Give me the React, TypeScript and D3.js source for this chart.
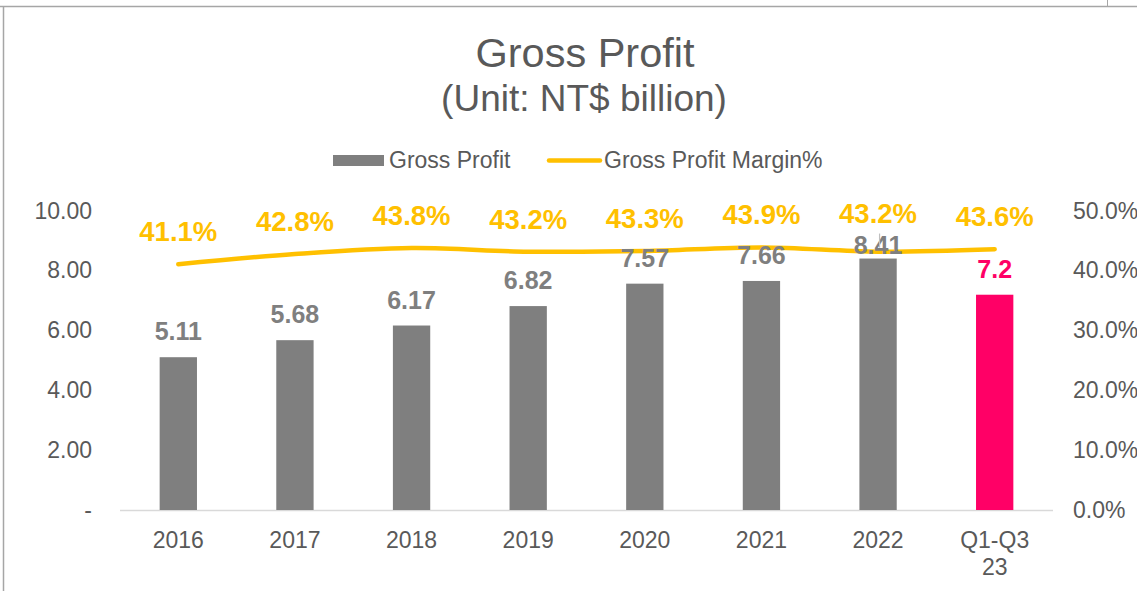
import React, { useEffect, useRef } from 'react';
import * as d3 from 'd3';

const categories = ['2016', '2017', '2018', '2019', '2020', '2021', '2022', 'Q1-Q3\n23'];
const grossProfit = [5.11, 5.68, 6.17, 6.82, 7.57, 7.66, 8.41, 7.2];
const grossProfitLabels = ['5.11', '5.68', '6.17', '6.82', '7.57', '7.66', '8.41', '7.2'];
const marginPct = [41.1, 42.8, 43.8, 43.2, 43.3, 43.9, 43.2, 43.6];
const leftTicks = [0, 2, 4, 6, 8, 10];
const rightTicks = [0, 10, 20, 30, 40, 50];

const W = 1137;
const H = 591;

const App = () => {
  const ref = useRef<SVGSVGElement | null>(null);

  useEffect(() => {
    const svg = d3.select(ref.current);
    svg.selectAll('*').remove();
    svg.style('font-family', '"Liberation Sans", Arial, sans-serif');

    const plot = { left: 120, right: 1053, top: 211, bottom: 510 };

    const x = d3.scaleBand().domain(categories).range([plot.left, plot.right]).paddingInner(0.68).paddingOuter(0.34);
    const y = d3.scaleLinear().domain([0, 10]).range([plot.bottom, plot.top]);
    const y2 = d3.scaleLinear().domain([0, 50]).range([plot.bottom, plot.top]);
    const cx = (i: number) => (x(categories[i]) as number) + x.bandwidth() / 2;

    // frame lines
    svg.append('line').attr('x1', 0).attr('x2', W).attr('y1', 6.5).attr('y2', 6.5).attr('stroke', '#a6a6a6').attr('stroke-width', 1.5);
    svg.append('line').attr('x1', 3.5).attr('x2', 3.5).attr('y1', 6).attr('y2', H).attr('stroke', '#a6a6a6').attr('stroke-width', 1.5);
    svg.append('line').attr('x1', 1107.5).attr('x2', 1107.5).attr('y1', 0).attr('y2', 6).attr('stroke', '#a6a6a6').attr('stroke-width', 1);

    // title
    svg.append('text').attr('x', 585).attr('y', 67).attr('text-anchor', 'middle')
      .style('font-size', '41.5px').attr('fill', '#595959').text('Gross Profit');
    svg.append('text').attr('x', 584).attr('y', 111).attr('text-anchor', 'middle')
      .style('font-size', '37px').attr('fill', '#595959').text('(Unit: NT$ billion)');

    // legend
    const lg = svg.append('g');
    lg.append('rect').attr('x', 333).attr('y', 155).attr('width', 51).attr('height', 11).attr('fill', '#7f7f7f');
    lg.append('text').attr('x', 389).attr('y', 168).style('font-size', '23px').attr('fill', '#595959').text('Gross Profit');
    lg.append('line').attr('x1', 549).attr('x2', 600).attr('y1', 160.5).attr('y2', 160.5)
      .attr('stroke', '#ffc000').attr('stroke-width', 4.5).attr('stroke-linecap', 'round');
    lg.append('text').attr('x', 604).attr('y', 168).style('font-size', '23px').attr('fill', '#595959').text('Gross Profit Margin%');

    // left axis
    svg.append('g').selectAll('text').data(leftTicks).enter().append('text')
      .attr('x', 92).attr('y', d => y(d) + 7.5).attr('text-anchor', 'end')
      .style('font-size', '23px').attr('fill', '#595959')
      .text(d => (d === 0 ? '-' : d3.format('.2f')(d)));

    // right axis
    svg.append('g').selectAll('text').data(rightTicks).enter().append('text')
      .attr('x', 1073).attr('y', d => y2(d) + 7.5).attr('text-anchor', 'start')
      .style('font-size', '23px').attr('fill', '#595959')
      .text(d => d3.format('.1f')(d) + '%');

    // baseline
    svg.append('line').attr('x1', plot.left).attr('x2', plot.right).attr('y1', plot.bottom + 0.5).attr('y2', plot.bottom + 0.5)
      .attr('stroke', '#d9d9d9').attr('stroke-width', 1.5);

    // x labels
    const xl = svg.append('g').selectAll('text').data(categories).enter().append('text')
      .attr('y', 548).attr('text-anchor', 'middle')
      .style('font-size', '23px').attr('fill', '#595959');
    xl.each(function (d, i) {
      const t = d3.select(this);
      d.split('\n').forEach((p, k) => {
        t.append('tspan').attr('x', cx(i)).attr('dy', k === 0 ? 0 : 27).text(p);
      });
    });

    // bars
    const last = categories.length - 1;
    svg.append('g').selectAll('rect').data(grossProfit).enter().append('rect')
      .attr('x', (d, i) => x(categories[i]) as number)
      .attr('y', d => y(d))
      .attr('width', x.bandwidth())
      .attr('height', d => plot.bottom - y(d))
      .attr('fill', (d, i) => (i === last ? '#ff0066' : '#7f7f7f'));

    // margin line
    const line = d3.line<number>()
      .x((d, i) => cx(i))
      .y(d => y2(d))
      .curve(d3.curveCatmullRom.alpha(0.5));
    svg.append('path').datum(marginPct).attr('d', line).attr('fill', 'none')
      .attr('stroke', '#ffc000').attr('stroke-width', 4.5).attr('stroke-linecap', 'round');

    // bar labels (2022 label sits lower, right on the bar, as in the source)
    svg.append('g').selectAll('text').data(grossProfit).enter().append('text')
      .attr('x', (d, i) => cx(i))
      .attr('y', (d, i) => y(d) - (i === 6 ? 5 : 17))
      .attr('text-anchor', 'middle')
      .style('font-size', '25px').style('font-weight', 'bold')
      .attr('fill', (d, i) => (i === last ? '#ff0066' : '#7f7f7f'))
      .text((d, i) => grossProfitLabels[i]);

    // thin gray tick over the 2022 label
    svg.append('line').attr('x1', cx(6) + 1.5).attr('x2', cx(6) + 1.5).attr('y1', y(8.41) - 25).attr('y2', y(8.41) - 11)
      .attr('stroke', '#bfbfbf').attr('stroke-width', 1.2);

    // margin labels (2022 one pushed up a little, clear of the bar label)
    svg.append('g').selectAll('text').data(marginPct).enter().append('text')
      .attr('x', (d, i) => cx(i))
      .attr('y', (d, i) => y2(d) - (i === 6 ? 29 : 23))
      .attr('text-anchor', 'middle')
      .style('font-size', '27.5px').style('font-weight', 'bold')
      .attr('fill', '#ffc000')
      .text(d => d3.format('.1f')(d) + '%');
  }, []);

  return (
    <svg ref={ref} width={W} height={H} style={{ position: 'absolute', left: 0, top: 0, background: '#fff' }} />
  );
};

export default App;
